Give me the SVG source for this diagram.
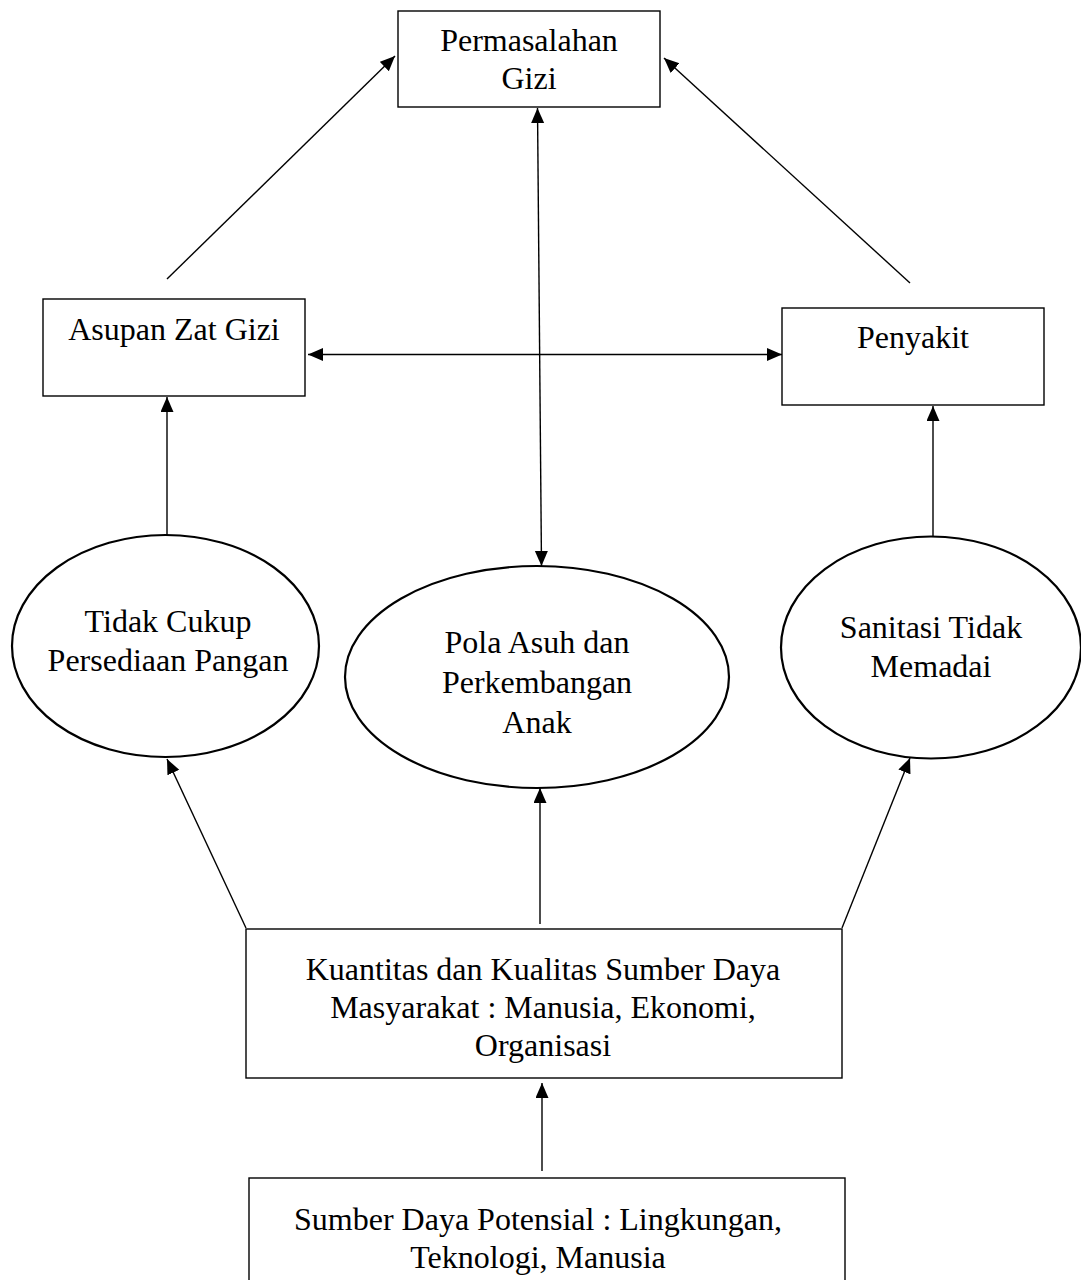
<svg xmlns="http://www.w3.org/2000/svg" width="1081" height="1280" viewBox="0 0 1081 1280">
<style>
.box{fill:#fff;stroke:#000;stroke-width:1.4}
.ell{fill:#fff;stroke:#000;stroke-width:2.2}
.t{font-family:"Liberation Serif","Times New Roman",serif;font-size:32px;fill:#000;text-anchor:middle}
.c{stroke:#000;stroke-width:1.4;fill:none}
.a{marker-end:url(#ah)}
.d{marker-start:url(#ah);marker-end:url(#ah)}
</style>
<defs>
<marker id="ah" markerUnits="userSpaceOnUse" markerWidth="16" markerHeight="14" refX="15" refY="6.5" orient="auto-start-reverse" viewBox="0 0 16 14">
<path d="M0,0 L15,6.5 L0,13 z" fill="#000"/>
</marker>
</defs>
<rect width="1081" height="1280" fill="#fff"/>

<g id="connectors">
<line class="c a" x1="167" y1="279" x2="395" y2="56"/>
<line class="c a" x1="910" y1="283" x2="664" y2="58"/>
<line class="c d" x1="537.5" y1="108" x2="541.5" y2="566"/>
<line class="c d" x1="308" y1="354.5" x2="782" y2="354.5"/>
<line class="c a" x1="167" y1="535" x2="167" y2="397"/>
<line class="c a" x1="933" y1="537" x2="933" y2="406"/>
<line class="c a" x1="246" y1="928" x2="167" y2="759"/>
<line class="c a" x1="540" y1="924" x2="540" y2="788"/>
<line class="c a" x1="842" y1="928" x2="910" y2="758"/>
<line class="c a" x1="542" y1="1171" x2="542" y2="1083"/>
</g>

<g id="node-permasalahan">
<rect class="box" x="398" y="11" width="262" height="96"/>
<text class="t" x="529" y="51">Permasalahan</text>
<text class="t" x="529" y="89">Gizi</text>
</g>

<g id="node-asupan">
<rect class="box" x="43" y="299" width="262" height="97"/>
<text class="t" x="174" y="340">Asupan Zat Gizi</text>
</g>

<g id="node-penyakit">
<rect class="box" x="782" y="308" width="262" height="97"/>
<text class="t" x="913" y="348">Penyakit</text>
</g>

<g id="node-tidak-cukup">
<ellipse class="ell" cx="165.5" cy="646" rx="153.5" ry="111"/>
<text class="t" x="168" y="632">Tidak Cukup</text>
<text class="t" x="168" y="671">Persediaan Pangan</text>
</g>

<g id="node-pola-asuh">
<ellipse class="ell" cx="537" cy="677" rx="192" ry="111"/>
<text class="t" x="537" y="653">Pola Asuh dan</text>
<text class="t" x="537" y="693">Perkembangan</text>
<text class="t" x="537" y="733">Anak</text>
</g>

<g id="node-sanitasi">
<ellipse class="ell" cx="931" cy="647.5" rx="150" ry="111"/>
<text class="t" x="931" y="638">Sanitasi Tidak</text>
<text class="t" x="931" y="677">Memadai</text>
</g>

<g id="node-kuantitas">
<rect class="box" x="246" y="929" width="596" height="149"/>
<text class="t" x="543" y="980">Kuantitas dan Kualitas Sumber Daya</text>
<text class="t" x="543" y="1018">Masyarakat : Manusia, Ekonomi,</text>
<text class="t" x="543" y="1056">Organisasi</text>
</g>

<g id="node-sumber">
<rect class="box" x="249" y="1178" width="596" height="120"/>
<text class="t" x="538" y="1230">Sumber Daya Potensial : Lingkungan,</text>
<text class="t" x="538" y="1268">Teknologi, Manusia</text>
</g>
</svg>
